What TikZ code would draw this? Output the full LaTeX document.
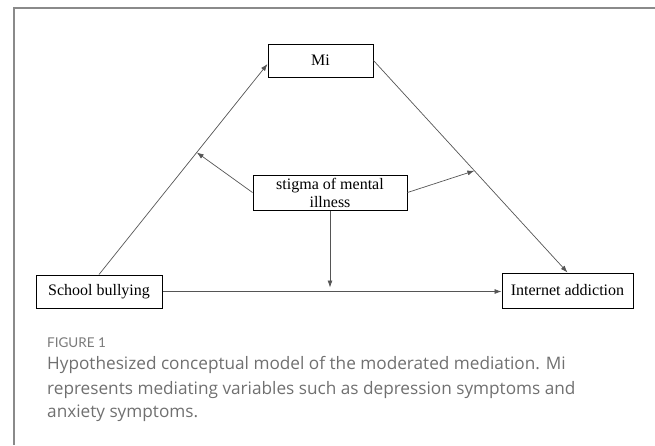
\documentclass[tikz,border=0pt]{standalone}
\usepackage{fontspec}
\setmainfont{Liberation Serif}
\newfontfamily\capfont{Open Sans}
\newfontfamily\figfont{Lato}
\usetikzlibrary{arrows.meta,calc}
\definecolor{framegray}{HTML}{8A8A8A}
\definecolor{capgray}{HTML}{707070}
\definecolor{figgray}{HTML}{7A7A7A}
\definecolor{linegray}{HTML}{555555}
\begin{document}
\begin{tikzpicture}[x=1pt,y=-1pt,
  varbox/.style={draw=black,line width=1pt,fill=white,inner sep=0pt,align=center,
    font=\fontsize{16}{18}\selectfont},
  conn/.style={draw=linegray,line width=0.7pt,-{Latex[length=7pt,width=5pt]}},
  capline/.style={anchor=base west,inner sep=0pt,text=capgray,font=\capfont\fontsize{17.2}{20}\selectfont}]
\useasboundingbox (0,0) rectangle (655,445);
\draw[framegray,line width=1.5pt] (655,8) -- (14,8) -- (14,445);
\node[varbox,minimum width=105pt,minimum height=33pt] (mi) at (320.5,60.5) {Mi};
\node[varbox,minimum width=154pt,minimum height=35pt] (stig) at (330,192.5) {stigma of mental\\illness};
\node[varbox,minimum width=126pt,minimum height=33pt] (bully) at (99,291.5) {School bullying};
\node[varbox,minimum width=131pt,minimum height=35pt] (inet) at (567.5,290.5) {Internet addiction};
\coordinate (miw) at ($(mi.west)+(0,3.5)$);
\path (bully.north) -- (miw) coordinate[pos=0.58] (m1);
\path (mi.east) -- (inet.north) coordinate[pos=0.52] (m2);
\coordinate (m3) at ($(stig.south |- bully.east)+(0,-4)$);
\draw[conn] (bully.north) -- (miw);
\draw[conn] (mi.east) -- (inet.north);
\draw[conn] (bully.east) -- (bully.east -| inet.west);
\draw[conn] (stig.west) -- (m1);
\draw[conn] (stig.east) -- (m2);
\draw[conn] (stig.south) -- (m3);
\node[anchor=base west,inner sep=0pt,text=figgray,font=\figfont\fontsize{13.5}{15}\selectfont] (fig) at (47,347) {FIGURE 1};
\node[capline] (c1) at (47,369) {Hypothesized conceptual model of the moderated mediation. Mi};
\node[capline] (c2) at (47,394) {represents mediating variables such as depression symptoms and};
\node[capline] (c3) at (47,417) {anxiety symptoms.};
\end{tikzpicture}
\end{document}
